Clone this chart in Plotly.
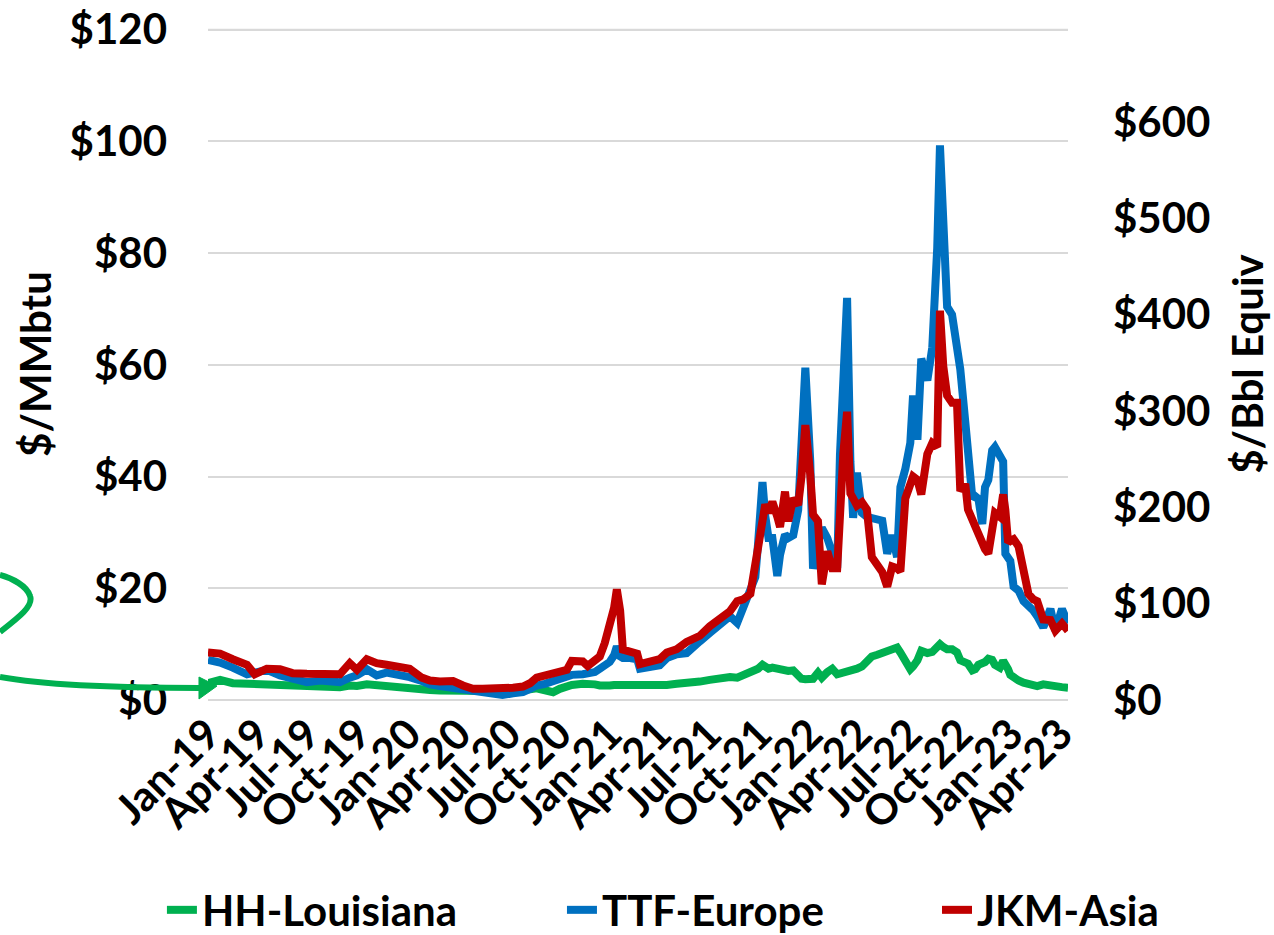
import plotly.graph_objects as go

# Weekly-ish gas prices, $/MMbtu
dates = [
    "2019-01-01", "2019-01-23", "2019-02-15", "2019-03-13", "2019-03-27", "2019-04-18",
    "2019-05-12", "2019-06-04", "2019-06-30", "2019-07-24", "2019-08-16", "2019-08-29",
    "2019-09-16", "2019-09-29", "2019-10-17", "2019-11-04", "2019-11-22", "2019-12-16",
    "2020-01-03", "2020-01-25", "2020-02-09", "2020-02-27", "2020-03-22", "2020-04-09",
    "2020-04-27", "2020-05-15", "2020-06-02", "2020-06-20", "2020-07-09", "2020-07-27",
    "2020-08-09", "2020-08-21", "2020-09-05", "2020-09-20", "2020-10-02", "2020-10-15",
    "2020-10-24", "2020-11-13", "2020-11-22", "2020-12-05", "2020-12-14", "2020-12-23",
    "2021-01-01", "2021-01-09", "2021-01-14", "2021-01-20", "2021-01-25", "2021-02-07",
    "2021-02-20", "2021-02-25", "2021-03-15", "2021-04-02", "2021-04-15", "2021-05-03",
    "2021-05-21", "2021-06-01", "2021-06-14", "2021-07-02", "2021-07-20", "2021-08-08",
    "2021-08-21", "2021-09-01", "2021-09-14", "2021-09-23", "2021-09-28", "2021-10-06",
    "2021-10-11", "2021-10-17", "2021-10-24", "2021-11-02", "2021-11-07", "2021-11-16",
    "2021-11-22", "2021-12-01", "2021-12-10", "2021-12-16", "2021-12-23", "2022-01-01",
    "2022-01-06", "2022-01-15", "2022-01-22", "2022-02-01", "2022-02-10", "2022-02-19",
    "2022-02-24", "2022-03-02", "2022-03-09", "2022-03-15", "2022-03-20", "2022-03-27",
    "2022-04-05", "2022-04-14", "2022-04-23", "2022-05-03", "2022-05-12", "2022-05-21",
    "2022-05-30", "2022-06-08", "2022-06-14", "2022-06-23", "2022-07-02", "2022-07-07",
    "2022-07-15", "2022-07-22", "2022-08-02", "2022-08-11", "2022-08-20", "2022-08-25",
    "2022-08-31", "2022-09-07", "2022-09-16", "2022-09-25", "2022-10-01", "2022-10-10",
    "2022-10-15", "2022-10-23", "2022-10-28", "2022-11-03", "2022-11-10", "2022-11-15",
    "2022-11-21", "2022-11-28", "2022-12-03", "2022-12-12", "2022-12-18", "2022-12-22",
    "2022-12-27", "2022-12-31", "2023-01-06", "2023-01-15", "2023-01-24", "2023-02-02",
    "2023-02-11", "2023-02-18", "2023-03-01", "2023-03-14", "2023-03-23", "2023-04-04",
    "2023-04-15",
]

hh_louisiana = [
    3.0, 3.6, 3.0, 2.9, 2.8, 2.7, 2.6, 2.4, 2.4, 2.5, 2.2, 2.3,
    2.6, 2.5, 2.8, 2.6, 2.5, 2.3, 2.1, 1.9, 1.8, 1.7, 1.6, 1.6,
    1.7, 1.7, 1.6, 1.6, 1.6, 1.7, 1.9, 2.1, 1.6, 1.4, 2.0, 2.5,
    2.7, 2.9, 3.0, 2.8, 2.6, 2.5, 2.6, 2.7, 2.7, 2.6, 2.5, 2.7,
    2.8, 2.8, 2.6, 2.6, 2.7, 2.9, 3.0, 3.1, 3.3, 3.6, 3.9, 4.1,
    4.0, 4.5, 5.1, 5.3, 5.6, 6.3, 6.0, 5.6, 5.8, 5.6, 5.4, 5.2,
    5.2, 5.3, 4.2, 3.8, 3.7, 3.7, 3.8, 4.9, 4.0, 5.0, 5.6, 4.6,
    4.7, 4.8, 4.9, 5.0, 5.3, 5.6, 6.0, 7.1, 7.8, 8.1, 8.4, 8.8,
    8.9, 9.4, 8.5, 7.1, 5.5, 6.0, 7.1, 8.8, 8.4, 8.6, 9.6, 10.0,
    9.5, 9.1, 9.1, 8.5, 7.1, 6.8, 6.5, 5.3, 5.5, 6.3, 6.5, 6.8,
    7.4, 7.2, 6.3, 5.8, 7.0, 6.5, 5.5, 4.5, 4.0, 3.5, 3.1, 2.8,
    2.5, 2.5, 2.8, 2.5, 2.4, 2.3, 2.2,
]

ttf_europe = [
    7.2, 6.7, 5.8, 4.6, 4.9, 5.4, 4.4, 3.9, 3.2, 3.5, 3.3, 3.2,
    4.0, 4.4, 5.5, 4.4, 4.9, 4.5, 4.1, 3.4, 2.8, 2.5, 2.1, 1.8,
    1.5, 1.3, 1.0, 0.9, 1.2, 1.4, 2.0, 2.6, 2.9, 3.4, 3.6, 4.2,
    4.5, 4.6, 4.7, 5.0, 5.6, 6.2, 6.8, 8.0, 9.6, 7.8, 7.5, 7.5,
    7.3, 5.6, 5.8, 6.2, 7.5, 8.2, 8.4, 9.5, 10.5, 12.0, 13.5, 15.0,
    13.8, 16.5, 18.9, 22.0, 28.0, 39.0, 33.0, 29.0, 29.0, 22.2, 26.0, 29.6,
    29.0, 29.5, 34.0, 47.4, 59.5, 42.7, 23.5, 28.5, 30.8, 29.0, 26.0, 23.6,
    43.8, 60.0, 72.0, 42.7, 32.6, 40.7, 33.5, 32.8, 32.5, 32.5, 32.1, 26.2,
    29.5, 25.6, 38.1, 41.4, 46.0, 54.5, 46.6, 61.1, 57.2, 63.1, 80.9, 99.3,
    83.5, 70.4, 69.0, 63.8, 59.2, 49.9, 44.0, 36.1, 36.5, 36.0, 31.5, 38.1,
    39.4, 44.7, 45.3, 44.0, 42.7, 26.2, 25.5, 24.9, 20.3, 19.6, 17.7, 17.0,
    16.0, 15.0, 13.0, 16.3, 12.4, 16.3, 13.7,
]

jkm_asia = [
    8.5, 8.3, 7.3, 6.3, 4.6, 5.6, 5.5, 4.8, 4.7, 4.6, 4.3, 4.6,
    6.6, 5.4, 7.3, 6.6, 6.3, 6.0, 5.6, 4.0, 3.5, 3.3, 3.4, 2.6,
    2.0, 2.0, 2.0, 2.0, 2.2, 2.4, 3.0, 4.0, 4.3, 4.7, 5.0, 5.4,
    7.0, 6.9, 6.1, 7.0, 7.8, 10.2, 13.5, 16.5, 19.8, 16.0, 9.0, 8.6,
    8.3, 6.4, 7.0, 7.3, 8.5, 9.1, 10.4, 10.9, 11.5, 13.2, 14.4, 15.9,
    17.7, 18.0, 19.0, 25.0, 28.5, 33.0, 35.0, 33.5, 35.5, 32.8, 31.0, 37.3,
    32.0, 36.1, 34.9, 40.0, 49.2, 40.3, 33.2, 32.0, 20.7, 26.6, 23.6, 23.6,
    37.3, 44.0, 51.6, 37.0, 36.1, 34.8, 35.4, 34.1, 25.6, 24.2, 22.9, 20.3,
    23.9, 23.6, 23.0, 36.1, 38.5, 40.0, 39.4, 36.8, 44.0, 46.0, 45.3, 69.7,
    59.8, 54.5, 53.2, 53.2, 37.4, 38.7, 34.1, 32.1, 30.8, 29.5, 27.5, 27.0,
    26.2, 32.1, 33.5, 32.8, 36.8, 34.0, 28.2, 28.5, 28.8, 27.5, 22.9, 19.0,
    18.0, 17.7, 14.4, 14.3, 12.4, 13.7, 12.4,
]

tick_dates = [
    "2019-01-01", "2019-04-01", "2019-07-01", "2019-10-01",
    "2020-01-01", "2020-04-01", "2020-07-01", "2020-10-01",
    "2021-01-01", "2021-04-01", "2021-07-01", "2021-10-01",
    "2022-01-01", "2022-04-01", "2022-07-01", "2022-10-01",
    "2023-01-01", "2023-04-01",
]
tick_labels = [
    "Jan-19", "Apr-19", "Jul-19", "Oct-19", "Jan-20", "Apr-20", "Jul-20", "Oct-20",
    "Jan-21", "Apr-21", "Jul-21", "Oct-21", "Jan-22", "Apr-22", "Jul-22", "Oct-22",
    "Jan-23", "Apr-23",
]
mmbtu_ticks = [0, 20, 40, 60, 80, 100, 120]
mmbtu_labels = ["$0", "$20", "$40", "$60", "$80", "$100", "$120"]
bbl_ticks = [0, 100, 200, 300, 400, 500, 600]
bbl_labels = ["$0", "$100", "$200", "$300", "$400", "$500", "$600"]
MMBTU_PER_BBL = 5.8
Y_TOP = 120.3

font = dict(family="Lato", size=42, color="black", weight="bold")
grid = "#D9D9D9"

fig = go.Figure()
fig.add_trace(go.Scatter(x=dates, y=hh_louisiana, name="HH-Louisiana", mode="lines",
                         line=dict(color="#00B050", width=8), legend="legend"))
fig.add_trace(go.Scatter(x=dates, y=ttf_europe, name="TTF-Europe", mode="lines",
                         line=dict(color="#0070C0", width=8), legend="legend2"))
fig.add_trace(go.Scatter(x=dates, y=jkm_asia, name="JKM-Asia", mode="lines",
                         line=dict(color="#C00000", width=8), legend="legend3"))
# keeps the $/Bbl axis alive
fig.add_trace(go.Scatter(x=dates[:1], y=[0], yaxis="y2", mode="lines", showlegend=False,
                         hoverinfo="skip", line=dict(width=0)))

# top gridline (plotly drops grid lines sitting on the plot edge)
fig.add_shape(type="line", xref="paper", yref="y", x0=0, x1=1,
              y0=mmbtu_ticks[-1], y1=mmbtu_ticks[-1], layer="below",
              line=dict(color=grid, width=2))

# hand-drawn green swoosh pointing at the HH line
green = "#00B050"
fig.add_shape(type="path", xref="paper", yref="paper",
              path="M -0.2419,0.0342 Q -0.1721,0.0179 -0.0093,0.0179",
              line=dict(color=green, width=6))
fig.add_shape(type="path", xref="paper", yref="paper",
              path="M 0.0105,0.0208 L -0.0105,0.0342 L -0.0105,0.0015 Z",
              line=dict(color=green, width=1), fillcolor=green)
fig.add_shape(type="path", xref="paper", yref="paper",
              path="M -0.2419,0.1012 C -0.2209,0.1220 -0.2023,0.1399 -0.2070,0.1548 "
                   "C -0.2105,0.1696 -0.2279,0.1815 -0.2419,0.1860",
              line=dict(color=green, width=6))


def legend_at(x):
    return dict(orientation="h", x=x, xanchor="left", xref="container",
                y=0.0267, yanchor="middle", yref="container", font=font,
                bgcolor="rgba(0,0,0,0)")


fig.update_layout(
    width=1274, height=935,
    margin=dict(l=208, r=206, t=28, b=235, autoexpand=False),
    paper_bgcolor="white", plot_bgcolor="white",
    font=font,
    showlegend=True,
    legend=legend_at(0.1271),
    legend2=legend_at(0.4411),
    legend3=legend_at(0.7355),
    xaxis=dict(type="date", range=[dates[0], dates[-1]], tickvals=tick_dates,
               ticktext=tick_labels, tickangle=-45, showgrid=False, zeroline=False,
               showline=False, ticks="", tickfont=font, automargin=False),
    yaxis=dict(range=[0, Y_TOP], tickvals=mmbtu_ticks, ticktext=mmbtu_labels,
               showgrid=True, gridcolor=grid, gridwidth=2, zeroline=True,
               zerolinecolor=grid, zerolinewidth=2, showline=False, ticks="",
               ticklabelstandoff=40, ticklabeloverflow="allow", tickfont=font,
               automargin=False,
               title=dict(text="$/MMbtu", font=font, standoff=4)),
    yaxis2=dict(overlaying="y", side="right", range=[0, Y_TOP * MMBTU_PER_BBL],
                tickvals=bbl_ticks, ticktext=bbl_labels, showgrid=False, zeroline=False,
                showline=False, ticks="", ticklabelstandoff=44, tickfont=font,
                automargin=False,
                title=dict(text="$/Bbl Equiv", font=font, standoff=24)),
)

# drop the page's default 8px body margin so the figure fills the window
fig.write_html("out.html", config={"displayModeBar": False},
               post_script="document.body.style.margin='0px';")
